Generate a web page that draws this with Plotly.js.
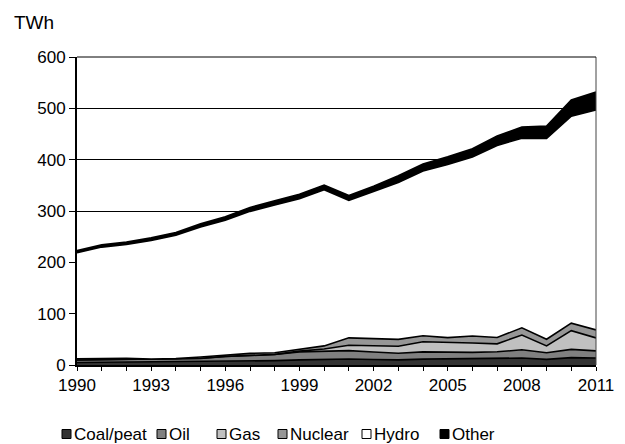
<!DOCTYPE html>
<html>
<head>
<meta charset="utf-8">
<script src="https://cdn.plot.ly/plotly-3.0.1.min.js"></script>
<style>html,body{margin:0;padding:0;background:#fff;}#chart{width:625px;height:444px;}</style>
</head>
<body>
<div id="chart"></div>
<script>
var years = [1990,1991,1992,1993,1994,1995,1996,1997,1998,1999,2000,2001,2002,2003,2004,2005,2006,2007,2008,2009,2010,2011];
var coalPeat = [5.0,5.5,5.4,5.7,6.3,6.3,7.0,8.0,8.5,10.0,10.7,11.8,10.6,9.9,11.4,11.8,11.8,11.9,13.6,10.9,14.4,13.6];
var oil      = [4.8,5.0,5.6,5.3,5.8,6.7,9.5,11.0,11.9,15.5,16.4,16.3,14.6,12.9,14.1,12.8,12.7,13.8,16.0,13.0,16.1,14.0];
var gas      = [0.0,0.2,0.2,0.2,0.2,0.2,0.3,0.4,0.3,1.5,4.1,10.5,13.0,13.8,19.8,18.8,18.3,15.5,28.8,13.3,36.5,25.1];
var nuclear  = [2.2,1.4,1.8,0.4,0.1,2.5,2.4,3.2,3.3,4.0,6.0,14.3,13.8,13.4,11.6,9.9,13.8,12.4,14.0,13.0,14.5,15.7];
var hydro    = [206.7,217.6,221.7,231.1,240.5,253.2,262.9,276.7,287.8,292.8,304.4,267.9,286.1,305.6,321.0,337.5,348.8,374.0,369.6,391.0,403.3,428.3];
var other    = [4.1,4.3,4.6,5.0,5.4,6.0,6.5,7.5,8.0,8.8,8.9,9.2,10.2,13.2,13.7,14.7,15.9,18.6,21.6,24.4,31.6,35.0];

var seriesNames = ['Coal/peat','Oil','Gas','Nuclear','Hydro','Other'];
var seriesColors = ['#333333','#808080','#c0c0c0','#969696','#ffffff','#000000'];
var seriesValues = [coalPeat, oil, gas, nuclear, hydro, other];

var yTicks = [0,100,200,300,400,500,600];
var xTickLabels = years.map(function(y){ return ((y-1990)%3===0) ? String(y) : ''; });

var traces = seriesNames.map(function(n,i){
  return {
    x: years, y: seriesValues[i], name: n, type: 'scatter', mode: 'lines',
    stackgroup: 'one', fillcolor: seriesColors[i], showlegend: false,
    line: {color: '#000000', width: 1.6}
  };
});

var W = 625, H = 444, L = 77, R = 29, T = 57, B = 79;
var pw = W - L - R, ph = H - T - B;
function px2x(p){ return (p - L) / pw; }
function py2y(p){ return (H - B - p) / ph; }

var FAM = "Arial, 'Liberation Sans', sans-serif";
var font = {family: FAM, size: 17, color: '#000'};

// manual legend (box squares + real text)
var legendBoxLeft = [62, 157, 217, 278, 362, 440];
var legendY = 434, box = 9;
var shapes = [
  {type: 'line', xref: 'paper', yref: 'paper', x0: 1, x1: 1, y0: 0, y1: 1, line: {color: '#444', width: 1}},
  {type: 'line', xref: 'paper', yref: 'paper', x0: 0, x1: 1, y0: 1, y1: 1, line: {color: '#000', width: 1}}
];
var annotations = [
  {text: 'TWh', xref: 'paper', yref: 'paper', x: px2x(12), y: py2y(23), xanchor: 'left', yanchor: 'middle',
   showarrow: false, font: {family: FAM, size: 19, color: '#000'}}
];
seriesNames.forEach(function(n,i){
  var bx = legendBoxLeft[i];
  shapes.push({type: 'rect', xref: 'paper', yref: 'paper',
    x0: px2x(bx), x1: px2x(bx+box), y0: py2y(legendY+box/2), y1: py2y(legendY-box/2),
    fillcolor: seriesColors[i], line: {color: '#000', width: 1}});
  annotations.push({text: n, xref: 'paper', yref: 'paper', x: px2x(bx+box+1), y: py2y(legendY),
    xanchor: 'left', yanchor: 'middle', showarrow: false, font: font});
});

var layout = {
  width: W, height: H,
  margin: {l: L, r: R, t: T, b: B},
  paper_bgcolor: '#fff', plot_bgcolor: '#fff',
  font: font,
  showlegend: false,
  xaxis: {
    range: [1990, 2011], tickmode: 'array', tickvals: years, ticktext: xTickLabels,
    ticks: 'outside', ticklen: 4, tickcolor: '#000', tickwidth: 1,
    showline: true, linecolor: '#000', linewidth: 1.5, showgrid: false, zeroline: false,
    tickfont: font, automargin: false
  },
  yaxis: {
    range: [0, 600], tickmode: 'array', tickvals: yTicks,
    ticks: 'outside', ticklen: 6, tickcolor: '#000', tickwidth: 1,
    showline: true, linecolor: '#000', linewidth: 2,
    showgrid: true, gridcolor: '#000', gridwidth: 1, zeroline: false,
    tickfont: font, automargin: false
  },
  shapes: shapes,
  annotations: annotations
};

Plotly.newPlot('chart', traces, layout, {displayModeBar: false, staticPlot: true});
</script>
</body>
</html>
